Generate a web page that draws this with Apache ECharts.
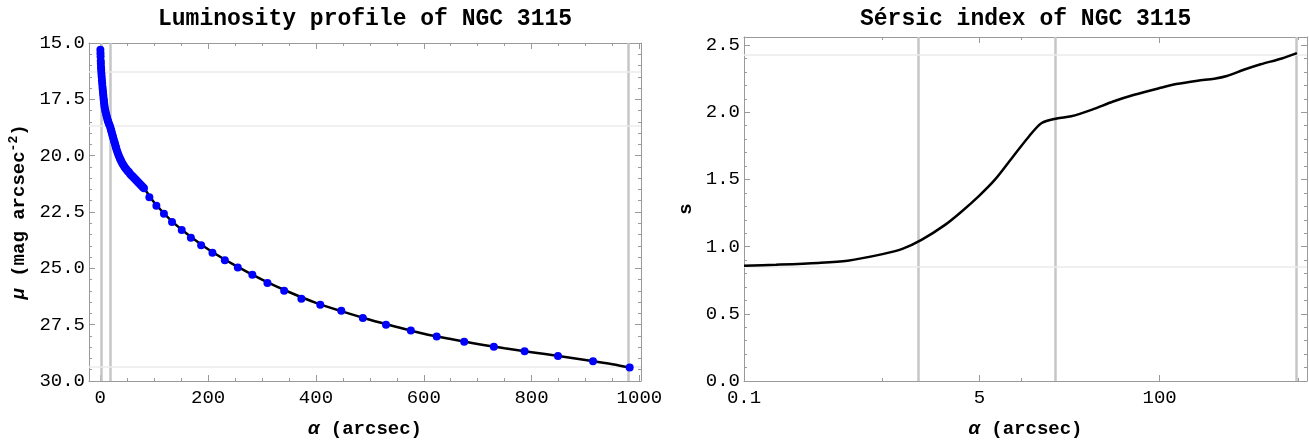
<!DOCTYPE html>
<html><head><meta charset="utf-8">
<script src="https://cdn.jsdelivr.net/npm/echarts@6/dist/echarts.min.js"></script>
<style>html,body{margin:0;padding:0;background:#fff}#c{width:1309px;height:444px}</style>
</head><body><div id="c"></div>
<script>
// ---- Luminosity profile: measured points ----
const profileAlpha = [0.1,0.3,0.5,0.8,1.0,1.3,1.6,2.0,2.5,3.0,3.5,4.0,4.5,5.0,5.5,6.0,6.5,7.0,7.5,8.0,9,10,11,12,13,14,15,16,17.8,19,20,21,22,23,24,25,26,27,28,29,30,31.5,33,34.5,36,37.5,39,41,43,45,47,49,51,53,55,57,59,61,63,65,67,69,71,73,75,77,79,81,91,104,118,133,151,168,187,208,231,255,282,310,341,373,408,447,487,530,576,624,675,730,787,849,914,982];
const profileMu = [15.30,15.45,15.60,15.80,15.92,16.08,16.20,16.35,16.50,16.65,16.80,16.95,17.08,17.20,17.32,17.45,17.55,17.65,17.75,17.85,17.98,18.08,18.18,18.27,18.37,18.45,18.52,18.60,18.68,18.78,18.87,18.95,19.05,19.13,19.22,19.30,19.38,19.46,19.55,19.63,19.72,19.83,19.93,20.02,20.10,20.18,20.26,20.35,20.43,20.50,20.57,20.63,20.69,20.73,20.80,20.86,20.90,20.95,21.00,21.05,21.10,21.15,21.20,21.25,21.30,21.35,21.40,21.45,21.85,22.22,22.58,22.94,23.30,23.64,23.98,24.31,24.64,24.96,25.28,25.65,26.00,26.35,26.62,26.88,27.20,27.50,27.76,28.02,28.26,28.48,28.68,28.89,29.12,29.40];
// ---- Luminosity profile: fitted curve ----
const fitAlpha = [0.1,2,6,12,17.8,25,35,45,60,80,100,130,160,200,250,300,350,400,450,500,550,600,650,700,750,800,850,900,950,985];
const fitMu = [15.30,16.35,17.45,18.27,18.68,19.30,20.05,20.50,20.93,21.42,22.08,22.85,23.45,24.15,24.87,25.50,26.05,26.53,26.92,27.28,27.60,27.90,28.14,28.36,28.55,28.72,28.89,29.07,29.26,29.42];
// ---- Sersic index curve ----
const sersicAlpha = [0.1,0.17,0.343,0.56,1.0,1.39,1.91,2.81,3.71,5.0,6.5,8.6,11.4,14.1,18.1,23,32.6,46.2,65.6,100,132,188,248,306,405,537,762,980];
const sersicS = [0.858,0.865,0.878,0.895,0.944,0.983,1.05,1.16,1.26,1.38,1.50,1.66,1.82,1.92,1.954,1.97,2.02,2.08,2.13,2.18,2.21,2.235,2.25,2.27,2.316,2.357,2.40,2.44];
// ---- reference lines ----
const markAlpha = [1.8, 17.8, 980];
const lumMarkMu = [16.28, 18.68, 29.37];
const serMarkS = [0.85, 2.43];
// ---- ticks / labels ----
const lumXLabels = [0,200,400,600,800,1000];
const lumXMinor = [50,100,150,250,300,350,450,500,550,650,700,750,850,900,950];
const lumYLabels = [15,17.5,20,22.5,25,27.5,30];
const lumYMinor = [15.5,16,16.5,17,18,18.5,19,19.5,20.5,21,21.5,22,23,23.5,24,24.5,25.5,26,26.5,27,28,28.5,29,29.5];
const serXLabels = [0.1,5,100];
const serXMinor = [1,10,1000];
const serYLabels = [0,0.5,1,1.5,2,2.5];
const serYMinor = [0.1,0.2,0.3,0.4,0.6,0.7,0.8,0.9,1.1,1.2,1.3,1.4,1.6,1.7,1.8,1.9,2.1,2.2,2.3,2.4];

const FONT = 'Liberation Mono';
const FRAME = '#9a9a9a';
const lg = v => Math.log10(v);

function axisSet(kind, grid, o) {
  const base = {gridIndex: grid, type: 'value', min: o.min, max: o.max, inverse: !!o.inverse,
    splitLine: {show: false}, splitArea: {show: false}};
  const pos = kind === 'x' ? ['bottom', 'top'] : ['left', 'right'];
  const res = [];
  pos.forEach((p, i) => {
    const main = Object.assign({}, base, {
      position: p,
      axisLine: {show: true, onZero: false, lineStyle: {color: FRAME, width: 1}},
      axisTick: {show: true, inside: true, length: 6, customValues: o.major, lineStyle: {color: FRAME, width: 1}},
      axisLabel: i === 0 ? {show: true, customValues: o.major, formatter: o.fmt, color: '#000',
        fontFamily: FONT, fontWeight: 'normal', fontSize: 19, margin: o.margin} : {show: false}
    });
    if (i === 0 && o.name) {
      main.name = o.name;
      main.nameLocation = 'middle';
      main.nameGap = o.nameGap;
      main.nameTextStyle = {color: '#000', fontFamily: FONT, fontWeight: 'bold', fontSize: 19,
        rich: {
          i: {fontFamily: FONT, fontWeight: 'bold', fontStyle: 'italic', fontSize: 19, color: '#000'},
          sup: {fontFamily: FONT, fontWeight: 'bold', fontSize: 13, color: '#000', verticalAlign: 'bottom', padding: [0, 0, 11, 0]}
        }};
    }
    res.push(main);
    res.push(Object.assign({}, base, {
      position: p,
      axisLine: {show: false, onZero: false},
      axisTick: {show: true, inside: true, length: 3, customValues: o.minor, lineStyle: {color: FRAME, width: 1}},
      axisLabel: {show: false}
    }));
  });
  return res;
}

const xAxes = [].concat(
  axisSet('x', 0, {min: -21, max: 1003, major: lumXLabels, minor: lumXMinor, fmt: v => String(v), margin: 7,
    name: '{i|α} (arcsec)', nameGap: 39}),
  axisSet('x', 1, {min: lg(serXLabels[0]), max: lg(1159), major: serXLabels.map(lg), minor: serXMinor.map(lg),
    fmt: v => String(+Math.pow(10, v).toPrecision(3)), margin: 7, name: '{i|α} (arcsec)', nameGap: 39})
);
const yAxes = [].concat(
  axisSet('y', 0, {min: 15, max: 30, inverse: true, major: lumYLabels, minor: lumYMinor, fmt: v => v.toFixed(1), margin: 4,
    name: '{i|μ} (mag arcsec{sup|-2})', nameGap: 58}),
  axisSet('y', 1, {min: 0, max: 2.56, major: serYLabels, minor: serYMinor, fmt: v => v.toFixed(1), margin: 4,
    name: 's', nameGap: 48})
);

const vLine = {color: '#c6c6c6', width: 2.5, type: 'solid'};
const hLine = {color: '#ebebeb', width: 1.5, type: 'solid'};

const option = {
  animation: false,
  backgroundColor: '#fff',
  title: [
    {text: 'Luminosity profile of NGC 3115', left: 158, top: 8, padding: 0,
      textStyle: {fontFamily: FONT, fontWeight: 'bold', fontSize: 23, color: '#000'}},
    {text: 'Sérsic index of NGC 3115', left: 860, top: 8, padding: 0,
      textStyle: {fontFamily: FONT, fontWeight: 'bold', fontSize: 23, color: '#000'}}
  ],
  grid: [
    {left: 89, right: 668, top: 43, bottom: 60, containLabel: false},
    {left: 744, right: 2, top: 37, bottom: 60, containLabel: false}
  ],
  xAxis: xAxes,
  yAxis: yAxes,
  series: [
    {type: 'line', xAxisIndex: 0, yAxisIndex: 0, z: 3, showSymbol: false, smooth: 0.3,
      lineStyle: {color: '#000', width: 2.5},
      data: fitAlpha.map((a, i) => [a, fitMu[i]]),
      markLine: {silent: true, z: 1, symbol: ['none', 'none'], label: {show: false}, animation: false,
        data: markAlpha.map(v => ({xAxis: v, lineStyle: vLine})).concat(lumMarkMu.map(v => ({yAxis: v, lineStyle: hLine})))}},
    {type: 'scatter', xAxisIndex: 0, yAxisIndex: 0, z: 4, symbol: 'circle', symbolSize: 8,
      itemStyle: {color: '#0000ff', opacity: 1},
      data: profileAlpha.map((a, i) => [a, profileMu[i]])},
    {type: 'line', xAxisIndex: 4, yAxisIndex: 4, z: 3, showSymbol: false, smooth: 0.3,
      lineStyle: {color: '#000', width: 2.5},
      data: sersicAlpha.map((a, i) => [lg(a), sersicS[i]]),
      markLine: {silent: true, z: 1, symbol: ['none', 'none'], label: {show: false}, animation: false,
        data: markAlpha.map(v => ({xAxis: lg(v), lineStyle: vLine})).concat(serMarkS.map(v => ({yAxis: v, lineStyle: hLine})))}}
  ]
};
const chart = echarts.init(document.getElementById('c'), null, {renderer: 'canvas'});
chart.setOption(option);
</script></body></html>
